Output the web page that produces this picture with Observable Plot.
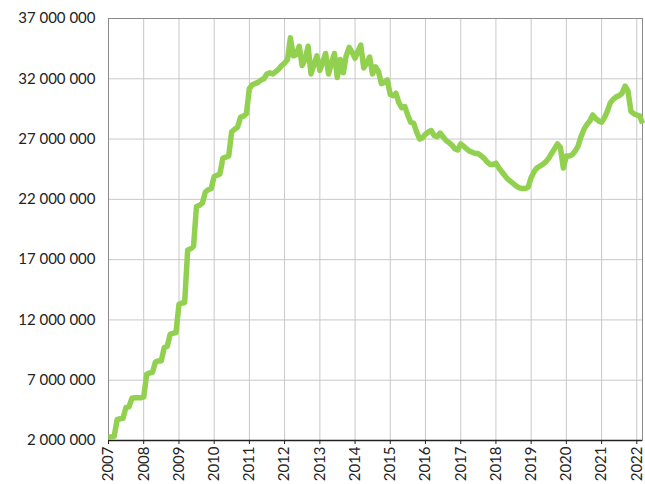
<!DOCTYPE html>
<html>
<head>
<meta charset="utf-8">
<script src="https://cdn.jsdelivr.net/npm/d3@7"></script>
<script src="https://cdn.jsdelivr.net/npm/@observablehq/plot@0.6"></script>
<style>
  html, body { margin: 0; padding: 0; background: #fff; }
</style>
</head>
<body>
<div id="chart"></div>
<script>
// Monthly values (millions), starting January 2007
const startYear = 2007;
const values = [
  // 2007
  2.3, 2.3, 2.35, 3.75, 3.8, 3.85, 4.75, 4.8, 5.5, 5.55, 5.55, 5.55,
  // 2008
  5.6, 7.5, 7.6, 7.65, 8.5, 8.6, 8.6, 9.7, 9.8, 10.8, 10.9, 10.95,
  // 2009
  13.3, 13.4, 13.45, 17.8, 17.9, 18.1, 21.4, 21.5, 21.7, 22.6, 22.8, 22.9,
  // 2010
  23.9, 24.0, 24.1, 25.4, 25.5, 25.6, 27.6, 27.8, 28.0, 28.8, 28.9, 29.1,
  // 2011
  31.2, 31.5, 31.6, 31.7, 31.9, 32.0, 32.4, 32.5, 32.4, 32.6, 32.8, 33.1,
  // 2012
  33.3, 33.6, 35.4, 33.9, 34.0, 34.7, 33.1, 33.6, 34.7, 32.4, 33.2, 33.9,
  // 2013
  32.7, 33.4, 34.1, 32.4, 33.3, 34.1, 32.1, 33.6, 32.5, 33.9, 34.6, 34.2,
  // 2014
  33.7, 34.3, 34.8, 32.9, 33.3, 33.8, 32.4, 33.0, 32.6, 31.6, 31.7, 31.9,
  // 2015
  30.7, 30.6, 30.8, 30.0, 29.6, 29.7, 29.0, 28.4, 28.3, 27.6, 27.0, 27.1,
  // 2016
  27.4, 27.6, 27.7, 27.3, 27.2, 27.5, 27.2, 26.9, 26.7, 26.5, 26.2, 26.1,
  // 2017
  26.6, 26.4, 26.2, 26.0, 25.9, 25.8, 25.8, 25.6, 25.4, 25.1, 24.9, 24.9,
  // 2018
  25.0, 24.6, 24.3, 24.0, 23.7, 23.5, 23.3, 23.1, 22.95, 22.9, 22.9, 23.0,
  // 2019
  23.8, 24.3, 24.6, 24.75, 24.9, 25.1, 25.4, 25.8, 26.2, 26.6, 26.3, 24.6,
  // 2020
  25.6, 25.6, 25.7, 26.0, 26.4, 27.2, 27.8, 28.2, 28.5, 29.0, 28.7, 28.5,
  // 2021
  28.4, 28.8, 29.3, 30.0, 30.3, 30.5, 30.6, 30.8, 31.4, 31.0, 29.3, 29.1,
  // 2022
  29.0, 28.9, 28.3
];
const yTicks = [2e6, 7e6, 12e6, 17e6, 22e6, 27e6, 32e6, 37e6];
const yearTicks = [2007, 2008, 2009, 2010, 2011, 2012, 2013, 2014, 2015, 2016, 2017, 2018, 2019, 2020, 2021, 2022];

const data = values.map((v, i) => ({
  date: new Date(Date.UTC(startYear, i, 1)),
  value: v * 1e6
}));
const xTickDates = yearTicks.map(y => new Date(Date.UTC(y, 0, 1)));
const fmt = d => d3.format(",")(d).replace(/,/g, " ");

const chart = Plot.plot({
  width: 645,
  height: 484,
  marginLeft: 108,
  marginRight: 3,
  marginTop: 18,
  marginBottom: 44,
  style: { fontFamily: "Lato, sans-serif", fontSize: "15px", color: "#222", background: "#fff" },
  x: { type: "utc", domain: [new Date(Date.UTC(2007, 0, 1)), new Date(Date.UTC(2022, 2, 1))] },
  y: { domain: [2e6, 37e6] },
  marks: [
    Plot.gridX(xTickDates, { stroke: "#c8c8c8", strokeOpacity: 1 }),
    Plot.gridY(yTicks, { stroke: "#c8c8c8", strokeOpacity: 1 }),
    Plot.frame({ stroke: "#8a8a8a" }),
    Plot.axisY(yTicks, { tickFormat: fmt, tickSize: 0, tickPadding: 13, label: null, fontSize: 15 }),
    Plot.axisX(xTickDates, { tickFormat: d => String(d.getUTCFullYear()), tickRotate: -90, tickSize: 4, tickPadding: 2, label: null, stroke: "#222", fontSize: 15 }),
    Plot.ruleY([2e6], { stroke: "#222", strokeWidth: 1.5 }),
    Plot.line(data, { x: "date", y: "value", stroke: "#92d050", strokeWidth: 5.5, strokeLinejoin: "round", strokeLinecap: "butt" })
  ]
});
document.getElementById("chart").appendChild(chart);
</script>
</body>
</html>
